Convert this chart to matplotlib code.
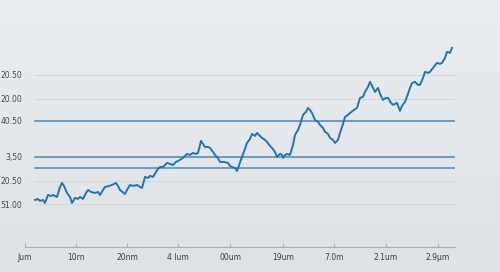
import numpy as np
import matplotlib.pyplot as plt

# series (x = time step, y = level above baseline)
lineX = [10, 13, 15, 18, 20, 23, 26, 28, 32, 35, 37, 39, 42, 45, 47, 50, 53, 55, 58, 61,
	63, 66, 70, 73, 75, 78, 80, 84, 87, 91, 93, 95, 100, 102, 105, 108, 112, 115, 117, 120,
	123, 125, 128, 131, 133, 135, 138, 142, 145, 148, 151, 155, 158, 162, 165, 168, 171, 173,
	176, 178, 180, 183, 185, 188, 190, 193, 195, 199, 203, 205, 207, 210, 212, 217, 220, 222,
	225, 227, 230, 232, 235, 237, 240, 242, 245, 247, 250, 252, 255, 257, 258, 260, 262, 265,
	268, 270, 273, 275, 278, 281, 283, 285, 287, 290, 293, 295, 298, 300, 303, 305, 308, 310,
	313, 315, 318, 320, 323, 325, 329, 332, 335, 338, 340, 343, 345, 348, 350, 353, 355, 358,
	361, 363, 366, 368, 372, 375, 377, 380, 383, 385, 387, 390, 393, 395, 398, 400, 403, 405,
	408, 412, 415, 417, 420, 422, 425, 427]
lineY = [47, 48, 46, 47, 44, 52, 51, 52, 50, 60, 64, 61, 54, 50, 44, 49, 48, 50, 48, 54,
	57, 55, 54, 55, 52, 57, 60, 61, 62, 64, 61, 57, 53, 57, 62, 61, 62, 60, 59, 70,
	69, 71, 70, 75, 78, 80, 80, 84, 83, 82, 85, 87, 89, 93, 92, 94, 93, 94,
	106, 103, 100, 100, 99, 95, 92, 89, 85, 85, 84, 81, 80, 79, 76, 90, 98, 104,
	108, 113, 111, 114, 111, 109, 107, 105, 101, 99, 95, 90, 93, 92, 89, 92, 93, 92,
	102, 112, 117, 122, 132, 135, 139, 137, 134, 127, 125, 122, 119, 115, 113, 109, 107, 104,
	107, 114, 123, 130, 132, 134, 137, 139, 149, 150, 155, 160, 165, 159, 155, 159, 153, 147,
	149, 149, 144, 142, 144, 136, 141, 145, 153, 159, 164, 165, 162, 162, 169, 175, 174, 175,
	179, 184, 183, 184, 189, 195, 194, 199]

xTicks = [0, 51, 102, 153, 205, 258, 309, 361, 413]
xLabels = ["Jum", "10rn", "20nm", "4 lum", "00um", "19um", "7.0m", "2.1um", "2.9\u00b5m"]
yTicks = [172, 148, 126, 90, 66, 42]
yLabels = ["20.50", "20.00", "40.50", "3,50", "20.50", "51.00"]
gridY = [172, 148, 66, 43]
bandY = [126, 90, 79]

fig = plt.figure(figsize=(5.0, 2.72), dpi=100)

# soft vertical background gradient
bgAx = fig.add_axes([0, 0, 1, 1], zorder=-1)
grad = np.linspace(0, 1, 256).reshape(-1, 1)
bgAx.imshow(grad, aspect='auto', cmap=plt.matplotlib.colors.LinearSegmentedColormap.from_list(
	'bg', ['#ebeef0', '#dde2e5']), extent=[0, 1, 0, 1])
bgAx.axis('off')

ax = fig.add_axes([0.05, 0.092, 0.86, 0.835])
ax.patch.set_alpha(0)

for y in gridY:
	ax.plot([10, 432], [y, y], color='#d2d7dc', linewidth=0.8, zorder=1)
for y in bandY:
	ax.plot([10, 432], [y, y], color='#4f86b6', linewidth=1.1, zorder=2)

ax.plot(lineX, lineY, color='#1f74b8', linewidth=1.4, zorder=3)

ax.set_xlim(0, 430)
ax.set_ylim(0, 227)
ax.set_xticks(xTicks)
ax.set_xticklabels(xLabels)
ax.set_yticks(yTicks)
ax.set_yticklabels(yLabels)

for s in ['top', 'right', 'left']:
	ax.spines[s].set_visible(False)
ax.spines['bottom'].set_color('#a9afb5')
ax.spines['bottom'].set_linewidth(0.8)
ax.tick_params(axis='x', direction='in', length=3, color='#a9afb5', labelsize=5.5,
	labelcolor='#3a3f44', pad=4)
ax.tick_params(axis='y', length=0, labelsize=5.5, labelcolor='#44494e', pad=2)

fig.savefig('out.png', dpi=100)
